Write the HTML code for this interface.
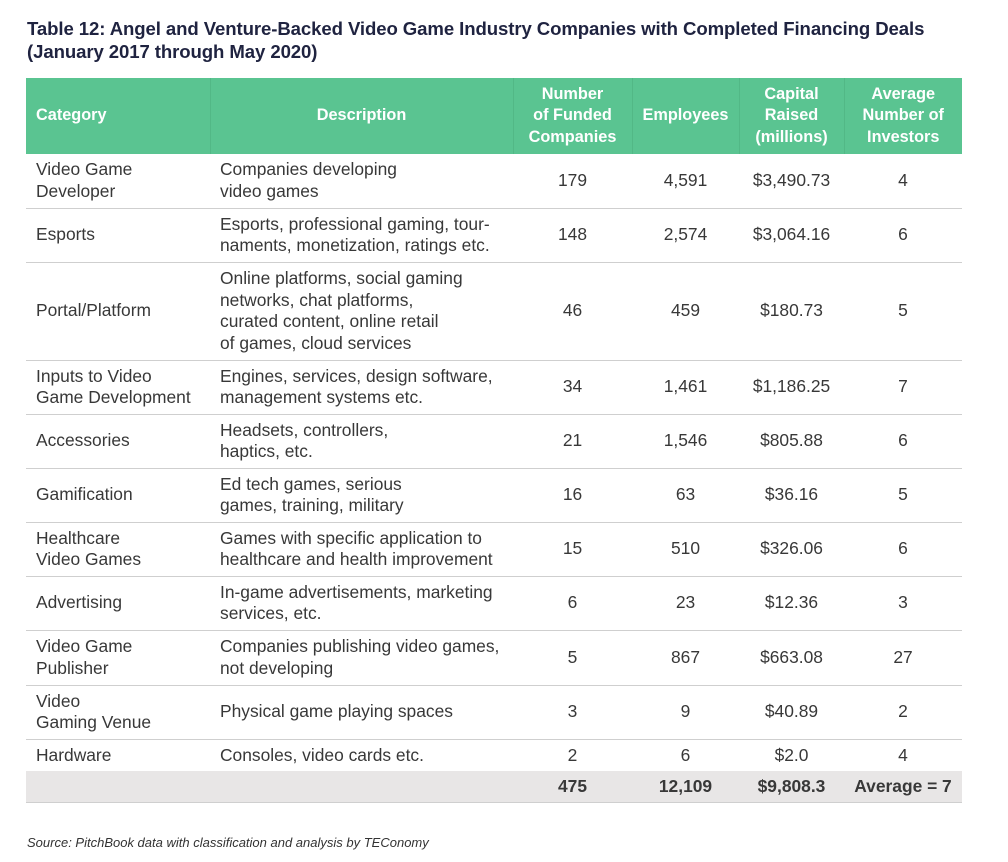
<!DOCTYPE html>
<html><head><meta charset="utf-8"><style>
body{margin:0;width:1008px;height:862px;background:#fff;font-family:"Liberation Sans",sans-serif;position:relative;overflow:hidden}
.t{position:absolute;left:27px;top:17px;font-size:18.6px;font-weight:bold;color:#1f2340;line-height:23px;letter-spacing:-0.1px}
table{position:absolute;left:26px;top:78px;width:936px;border-collapse:collapse;table-layout:fixed;color:#383838;font-size:17.4px}
td,th{padding:0 0 0 10px;line-height:21.5px;vertical-align:middle}
th{background:#5ac491;color:#fff;font-weight:bold;font-size:16.3px;height:76px;text-align:center;padding:0;border-left:1px solid #52b886}
th:first-child{text-align:left;padding-left:10px;border-left:none}
tr.r td{border-bottom:1px solid #cfcfcf}
td.c{text-align:center;padding:0}
tr.tot td{background:#e8e6e6;font-weight:bold;height:31px;border-bottom:1px solid #cfcfcf}
.s{position:absolute;left:27px;top:835px;font-size:13px;font-style:italic;color:#333}
</style></head><body>
<div class="t">Table 12: Angel and Venture-Backed Video Game Industry Companies with Completed Financing Deals<br>(January 2017 through May 2020)</div>
<table>
<colgroup><col style="width:184px"><col style="width:303px"><col style="width:119px"><col style="width:107px"><col style="width:105px"><col style="width:118px"></colgroup>
<tr><th>Category</th><th>Description</th><th>Number<br>of Funded<br>Companies</th><th>Employees</th><th>Capital<br>Raised<br>(millions)</th><th>Average<br>Number of<br>Investors</th></tr>
<tr class="r" style="height:54px"><td>Video Game<br>Developer</td><td>Companies developing<br>video games</td><td class="c">179</td><td class="c">4,591</td><td class="c">$3,490.73</td><td class="c">4</td></tr>
<tr class="r" style="height:54px"><td>Esports</td><td>Esports, professional gaming, tour-<br>naments, monetization, ratings etc.</td><td class="c">148</td><td class="c">2,574</td><td class="c">$3,064.16</td><td class="c">6</td></tr>
<tr class="r" style="height:98px"><td>Portal/Platform</td><td>Online platforms, social gaming<br>networks, chat platforms,<br>curated content, online retail<br>of games, cloud services</td><td class="c">46</td><td class="c">459</td><td class="c">$180.73</td><td class="c">5</td></tr>
<tr class="r" style="height:54px"><td>Inputs to Video<br>Game Development</td><td>Engines, services, design software,<br>management systems etc.</td><td class="c">34</td><td class="c">1,461</td><td class="c">$1,186.25</td><td class="c">7</td></tr>
<tr class="r" style="height:54px"><td>Accessories</td><td>Headsets, controllers,<br>haptics, etc.</td><td class="c">21</td><td class="c">1,546</td><td class="c">$805.88</td><td class="c">6</td></tr>
<tr class="r" style="height:54px"><td>Gamification</td><td>Ed tech games, serious<br>games, training, military</td><td class="c">16</td><td class="c">63</td><td class="c">$36.16</td><td class="c">5</td></tr>
<tr class="r" style="height:54px"><td>Healthcare<br>Video Games</td><td>Games with specific application to<br>healthcare and health improvement</td><td class="c">15</td><td class="c">510</td><td class="c">$326.06</td><td class="c">6</td></tr>
<tr class="r" style="height:54px"><td>Advertising</td><td>In-game advertisements, marketing<br>services, etc.</td><td class="c">6</td><td class="c">23</td><td class="c">$12.36</td><td class="c">3</td></tr>
<tr class="r" style="height:55px"><td>Video Game<br>Publisher</td><td>Companies publishing video games,<br>not developing</td><td class="c">5</td><td class="c">867</td><td class="c">$663.08</td><td class="c">27</td></tr>
<tr class="r" style="height:54px"><td>Video<br>Gaming Venue</td><td>Physical game playing spaces</td><td class="c">3</td><td class="c">9</td><td class="c">$40.89</td><td class="c">2</td></tr>
<tr style="height:32px"><td>Hardware</td><td>Consoles, video cards etc.</td><td class="c">2</td><td class="c">6</td><td class="c">$2.0</td><td class="c">4</td></tr>
<tr class="tot"><td></td><td></td><td class="c">475</td><td class="c">12,109</td><td class="c">$9,808.3</td><td class="c">Average = 7</td></tr>
</table>
<div class="s">Source: PitchBook data with classification and analysis by TEConomy</div>
</body></html>
